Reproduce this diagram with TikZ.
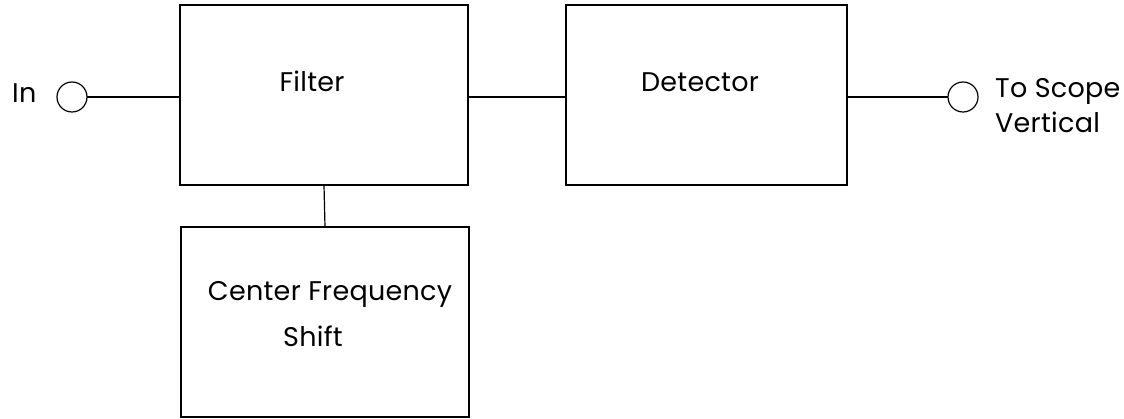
\documentclass[tikz,border=0pt]{standalone}
\usepackage{fontspec}
\setmainfont{Poppins}[LetterSpace=1]
\begin{document}
\begin{tikzpicture}[x=1pt,y=-1pt,
  blk/.style={draw, line width=1.2pt, minimum width=#1, inner sep=0pt, outer sep=0pt},
  term/.style={draw, circle, line width=1.2pt, minimum size=30pt, inner sep=0pt, outer sep=0pt},
  lbl/.style={font=\fontsize{27}{30}\selectfont, inner sep=0pt},
  wire/.style={line width=1.2pt}]
\useasboundingbox (0,0) rectangle (1124,419);
\node[blk=288pt, minimum height=180pt] (filter) at (324,95) {};
\node[blk=281pt, minimum height=180pt] (detector) at (706.5,95) {};
\node[blk=288pt, minimum height=190pt] (cfs) at (325,322) {};
\node[term] (in) at (72,97) {};
\node[term] (out) at (963,97) {};
\node[lbl, anchor=base west] (inlbl) at (12,103) {In};
\node[lbl, anchor=base] (filterlbl) at (312,92) {Filter};
\node[lbl, anchor=base] (detlbl) at (700,92) {Detector};
\node[lbl, anchor=base] (cfs1) at (330,301) {Center Frequency};
\node[lbl, anchor=base] (cfs2) at (313,347) {Shift};
\node[lbl, anchor=base west] (out1) at (995,98) {To Scope};
\node[lbl, anchor=base west] (out2) at (995,133) {Vertical};
\draw[wire] (in.east) -- (in.east -| filter.west);
\draw[wire] (filter.east |- 0,97) -- (detector.west |- 0,97);
\draw[wire] (detector.east |- out.west) -- (out.west);
\draw[wire] (filter.south) -- (cfs.north);
\end{tikzpicture}
\end{document}
